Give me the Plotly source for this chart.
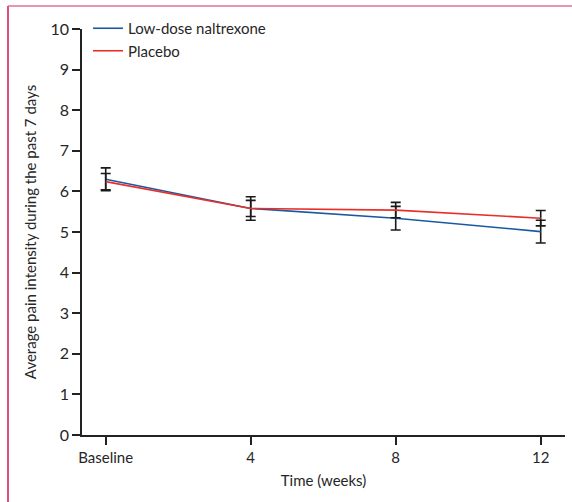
import plotly.graph_objects as go

weeks = [0, 4, 8, 12]
tick_labels = ["Baseline", "4", "8", "12"]
ldn_mean = [6.30, 5.58, 5.34, 5.01]
ldn_err = [0.28, 0.29, 0.29, 0.28]
placebo_mean = [6.24, 5.58, 5.54, 5.34]
placebo_err = [0.20, 0.20, 0.19, 0.19]

FONT = "Lato"
FS = 15
W, H = 572, 502
ML, MR, MT, MB = 82, 7, 29, 67
pw = W - ML - MR
ph = H - MT - MB

fig = go.Figure()
fig.add_trace(go.Scatter(
    x=weeks, y=ldn_mean, mode="lines", name="Low-dose naltrexone",
    line=dict(color="#1b58a3", width=1.6),
    error_y=dict(type="data", array=ldn_err, color="#1a1a1a", thickness=1.6, width=5),
))
fig.add_trace(go.Scatter(
    x=weeks, y=placebo_mean, mode="lines", name="Placebo",
    line=dict(color="#e8302a", width=1.6),
    error_y=dict(type="data", array=placebo_err, color="#1a1a1a", thickness=1.6, width=5),
))

def px_x(p):
    return (p - ML) / pw

def px_y(p):
    return (H - MB - p) / ph

fig.add_shape(type="line", xref="paper", yref="paper",
              x0=px_x(8), x1=px_x(8), y0=px_y(6), y1=px_y(H + 2),
              line=dict(color="#cc1453", width=1.5))
fig.add_shape(type="line", xref="paper", yref="paper",
              x0=px_x(8), x1=px_x(W + 2), y0=px_y(6), y1=px_y(6),
              line=dict(color="#e07098", width=1.5))

fig.update_layout(
    width=W, height=H,
    margin=dict(l=ML, r=MR, t=MT, b=MB, autoexpand=False),
    paper_bgcolor="white", plot_bgcolor="white",
    font=dict(family=FONT, size=FS, color="#262626"),
    showlegend=True,
    legend=dict(x=px_x(88), y=px_y(12), xanchor="left", yanchor="top",
                bgcolor="rgba(0,0,0,0)", font=dict(size=FS, family=FONT),
                tracegroupgap=0, itemwidth=30),
    xaxis=dict(
        range=[-0.654, 12.67], tickmode="array", tickvals=weeks, ticktext=tick_labels,
        showline=True, linecolor="#222", linewidth=1.5, ticks="outside", ticklen=8,
        tickwidth=1.5, tickcolor="#222", showgrid=False, zeroline=False, automargin=False,
        title=dict(text="Time (weeks)", standoff=11, font=dict(size=FS)),
    ),
    yaxis=dict(
        range=[0, 10], tickmode="array", tickvals=list(range(0, 11)),
        showline=True, linecolor="#222", linewidth=1.5, ticks="outside", ticklen=8,
        tickwidth=1.5, tickcolor="#222", showgrid=False, zeroline=False, automargin=False,
        ticklabelstandoff=0, tickfont=dict(size=16),
        title=dict(text="Average pain intensity during the past 7 days", standoff=10, font=dict(size=FS)),
    ),
)

fig.write_html("out.html", config={"displayModeBar": False},
               post_script="document.body.style.margin='0';document.body.style.overflow='hidden';")
